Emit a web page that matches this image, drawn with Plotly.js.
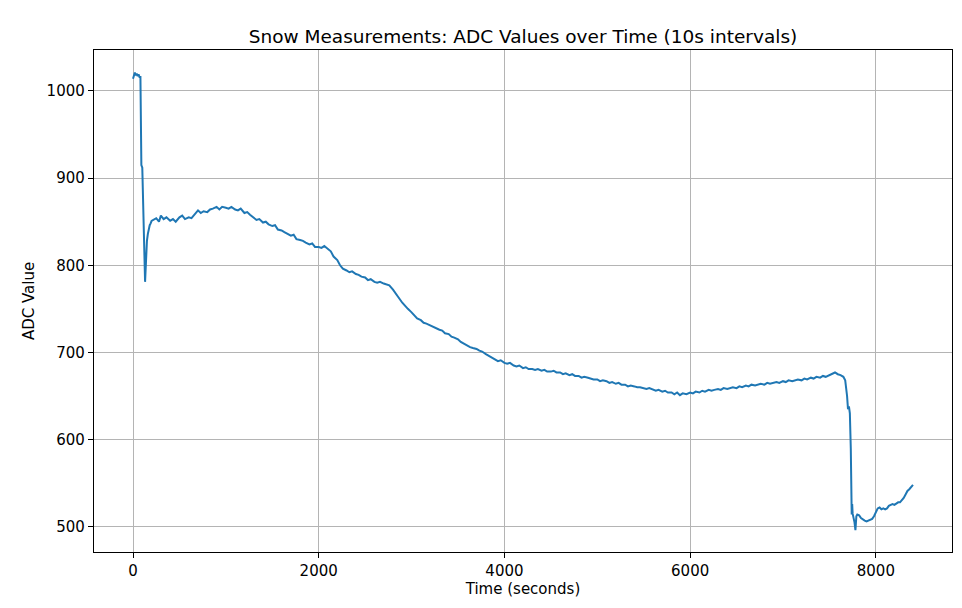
<!DOCTYPE html>
<html>
<head>
<meta charset="utf-8">
<script src="https://cdn.plot.ly/plotly-3.0.1.min.js"></script>
<style>html,body{margin:0;padding:0;background:#fff;}#chart{width:962px;height:608px;}</style>
</head>
<body>
<div id="chart"></div>
<script>
const timeSeconds = [0,10,20,30,40,50,60,70,80,90,100,130,140,150,160,170,180,190,200,
250,280,300,330,360,400,430,460,500,530,560,600,630,660,700,730,760,800,830,860,900,930,960,1000,1030,1060,1100,1130,1160,1200,1230,1260,1300,1330,1360,1400,1430,1460,1500,1530,1560,1600,1630,1660,1700,1730,1760,1800,1830,1860,1900,1930,1960,2000,2030,2060,2100,2130,2160,2200,2230,2260,2300,2330,2360,2400,2430,2460,2500,2530,2560,2600,2630,2660,2700,2730,2760,2800,2830,2860,2900,2930,2960,3000,3030,3060,3100,3130,3160,3200,3230,3260,3300,3330,3360,3400,3430,3460,3500,3530,3560,3600,3630,3660,3700,3730,3760,3800,3830,3860,3900,3930,3960,4000,4030,4060,4100,4130,4160,4200,4230,4260,4300,4330,4360,4400,4430,4460,4500,4530,4560,4600,4630,4660,4700,4730,4760,4800,4830,4860,4900,4930,4960,5000,5030,5060,5100,5130,5160,5200,5230,5260,5300,5330,5360,5400,5430,5460,5500,5530,5560,5600,5630,5660,5700,5730,5760,5800,5830,5860,5890,5920,5960,6000,6030,6060,6100,6130,6160,6200,6230,6260,6300,6330,6360,6400,6430,6460,6500,6530,6560,6600,6630,6660,6700,6730,6760,6800,6830,6860,6900,6930,6960,7000,7030,7060,7100,7130,7160,7200,7230,7260,7300,7330,7360,7400,7430,7460,7500,7530,7560,7590,7620,7650,7670,7690,7700,7710,7720,7730,7740,7745,7750,7760,7770,7780,7790,7800,7820,7840,7860,7880,7900,7920,7940,7960,7980,8000,8020,8040,8060,8080,8100,8120,8140,8160,8180,8200,8220,8240,8260,8280,8300,8320,8340,8360,8380,8400];
const adcValues = [1014,1019,1021,1018,1020,1017,1019,1016,1016,915,912,781,815,828,836,842,846,848,851,
854,850,857,853,855,851,853,850,855,857,853,855,854,858,863,860,862,861,864,865,867,864,867,866,865,867,864,863,865,860,861,858,855,852,853,849,850,847,845,846,841,840,838,836,834,835,830,829,828,826,824,825,821,821,820,822,818,816,810,806,800,796,794,792,793,790,789,787,786,783,784,781,780,781,779,778,777,772,767,763,757,753,750,746,742,739,737,734,733,731,729,728,726,725,722,721,718,717,715,712,710,708,706,705,704,702,701,698,696,694,691,690,691,688,687,688,685,684,685,682,683,681,681,680,681,679,680,678,678,679,677,677,675,676,674,675,673,673,671,672,671,670,669,669,667,668,667,665,666,664,665,663,663,661,662,661,660,660,659,658,659,657,656,657,655,656,654,654,652,654,651,653,652,654,653,655,654,656,655,657,656,657,658,657,659,658,659,660,659,661,660,662,661,663,662,663,664,663,665,664,665,666,665,667,666,668,667,668,669,668,670,669,671,670,672,671,673,672,674,675,677,675,674,672,668,650,635,638,630,590,514,526,515,511,505,496,512,514,513,510,508,507,506,507,508,509,512,516,521,522,520,521,520,521,524,525,526,525,527,528,528,530,533,537,541,543,546,548];
const xTickVals = [0,2000,4000,6000,8000];
const yTickVals = [500,600,700,800,900,1000];
const chartTitle = 'Snow Measurements: ADC Values over Time (10s intervals)';
const xTitle = 'Time (seconds)';
const yTitle = 'ADC Value';

const font = 'DejaVu Sans, sans-serif';
Plotly.newPlot('chart', [{
  x: timeSeconds, y: adcValues, type: 'scatter', mode: 'lines',
  line: {color: '#1f77b4', width: 2}, showlegend: false, hoverinfo: 'skip'
}], {
  width: 962, height: 608,
  margin: {l: 94, r: 10, t: 50, b: 56},
  paper_bgcolor: '#fff', plot_bgcolor: '#fff',
  font: {family: font, color: '#000', size: 15},
  title: {text: chartTitle, font: {family: font, size: 18.5, color: '#000'}, xref: 'paper', x: 0.5, xanchor: 'center', y: 0.94, yanchor: 'middle'},
  xaxis: {
    range: [-420, 8820], tickvals: xTickVals, ticktext: xTickVals.map(String),
    showgrid: true, gridcolor: '#b4b4b4', gridwidth: 1, zeroline: false,
    showline: true, linecolor: '#000', linewidth: 1.2, mirror: true,
    ticks: 'outside', ticklen: 5, tickwidth: 1, tickcolor: '#000',
    tickfont: {family: font, size: 15, color: '#000'},
    title: {text: xTitle, font: {family: font, size: 15, color: '#000'}, standoff: 2}
  },
  yaxis: {
    range: [471, 1047], tickvals: yTickVals, ticktext: yTickVals.map(String),
    showgrid: true, gridcolor: '#b4b4b4', gridwidth: 1, zeroline: false,
    showline: true, linecolor: '#000', linewidth: 1.2, mirror: true,
    ticks: 'outside', ticklen: 5, tickwidth: 1, tickcolor: '#000',
    tickfont: {family: font, size: 15, color: '#000'},
    title: {text: yTitle, font: {family: font, size: 15, color: '#000'}, standoff: 8}
  }
}, {staticPlot: true, displayModeBar: false});
</script>
</body>
</html>
